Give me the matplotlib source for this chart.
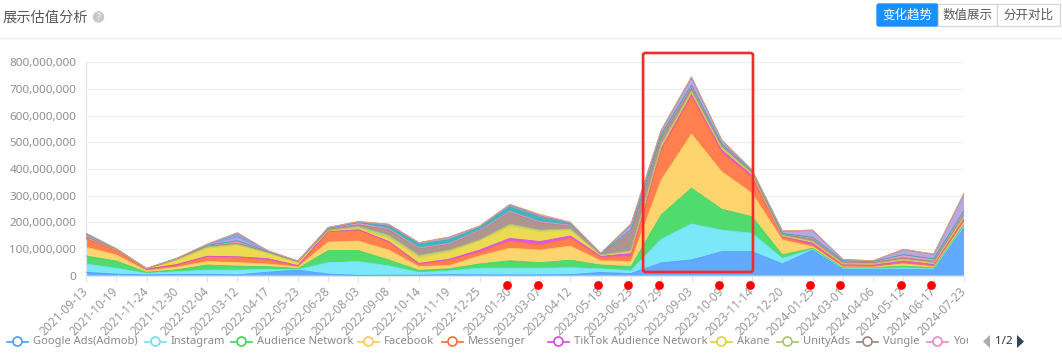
import matplotlib
matplotlib.use("Agg")
import matplotlib.pyplot as plt
import numpy as np
from matplotlib.patches import Rectangle, FancyBboxPatch, Circle, Polygon
from matplotlib.transforms import blended_transform_factory, ScaledTranslation, Bbox
from matplotlib.ticker import FuncFormatter, MultipleLocator
from matplotlib.lines import Line2D

plt.rcParams["font.family"] = ["Noto Sans", "Noto Sans CJK SC", "DejaVu Sans"]

# ---------------- data (values in millions) ----------------
dates = ["2021-09-13", "2021-10-19", "2021-11-24", "2021-12-30", "2022-02-04", "2022-03-12",
         "2022-04-17", "2022-05-23", "2022-06-28", "2022-08-03", "2022-09-08", "2022-10-14",
         "2022-11-19", "2022-12-25", "2023-01-30", "2023-03-07", "2023-04-12", "2023-05-18",
         "2023-06-23", "2023-07-29", "2023-09-03", "2023-10-09", "2023-11-14", "2023-12-20",
         "2024-01-25", "2024-03-01", "2024-04-06", "2024-05-12", "2024-06-17", "2024-07-23"]

google_ads = [13, 6, 3, 5, 5, 3, 13, 21, 6, 1, 2, 2, 4, 3, 3, 3, 4, 12, 8, 48, 59, 90, 90, 44, 96, 24, 24, 24, 22, 181]
instagram = [31, 22, 6, 10, 16, 18, 11, 2, 43, 52, 35, 10, 14, 25, 25, 25, 26, 14, 11, 89, 135, 81, 69, 21, 3, 4, 4, 5, 4, 5]
audience_network = [30, 27, 4, 7, 19, 15, 10, 4, 45, 41, 22, 8, 8, 16, 28, 21, 28, 14, 15, 91, 134, 78, 62, 13, 4, 2, 2, 7, 4, 6]
facebook = [33, 23, 5, 10, 13, 13, 10, 6, 32, 36, 37, 14, 12, 30, 47, 47, 53, 16, 19, 131, 203, 141, 88, 56, 6, 3, 3, 8, 4, 8]
messenger = [31, 18, 6, 8, 18, 20, 15, 3, 39, 41, 30, 10, 20, 14, 27, 19, 30, 14, 18, 112, 142, 71, 60, 10, 6, 4, 3, 6, 4, 8]
tiktok = [3, 1, 1, 2, 2, 2, 5, 2, 1, 2, 2, 2, 4, 8, 10, 13, 8, 3, 12, 8, 8, 10, 8, 3, 8, 5, 5, 6, 5, 6]
akane = [2, 1, 1, 16, 30, 44, 20, 10, 2, 3, 14, 22, 28, 35, 45, 38, 22, 3, 5, 5, 5, 5, 3, 2, 3, 2, 2, 3, 3, 6]
unityads = [1, 1, 0, 3, 5, 3, 3, 4, 2, 8, 9, 8, 6, 3, 8, 5, 4, 2, 5, 8, 6, 6, 4, 2, 3, 3, 2, 3, 3, 5]
vungle = [2, 1, 0, 2, 3, 4, 3, 1, 5, 7, 22, 25, 22, 34, 45, 28, 12, 3, 70, 30, 12, 6, 5, 5, 8, 4, 4, 6, 5, 6]
youtube = [8, 1, 1, 2, 3, 6, 1, 1, 3, 6, 3, 3, 3, 2, 3, 3, 2, 1, 5, 6, 8, 4, 3, 2, 6, 4, 3, 10, 8, 10]
page2_teal = [0, 0, 0, 0, 0, 3, 0, 0, 0, 2, 10, 14, 14, 10, 17, 16, 6, 1, 4, 3, 2, 2, 1, 0, 1, 1, 1, 1, 1, 2]
page2_purple = [5, 0, 0, 0, 2, 12, 2, 1, 2, 3, 5, 4, 8, 5, 6, 4, 2, 1, 15, 12, 25, 12, 3, 8, 25, 4, 2, 18, 16, 60]
page2_steel = [0, 0, 0, 0, 2, 18, 1, 0, 1, 1, 2, 2, 2, 1, 2, 2, 1, 0, 5, 3, 5, 3, 0, 2, 2, 1, 1, 2, 2, 6]
page2_peach = [0, 0, 0, 0, 0, 0, 0, 0, 0, 0, 0, 0, 0, 0, 2, 6, 3, 0, 3, 0, 2, 0, 0, 0, 0, 0, 0, 0, 0, 0]

legend_names = ["Google Ads(Admob)", "Instagram", "Audience Network", "Facebook", "Messenger",
                "TikTok Audience Network", "Akane", "UnityAds", "Vungle", "YouTube"]
legend_page = "1/2"
flagged_dates = ["2023-01-30", "2023-03-07", "2023-05-18", "2023-06-23", "2023-07-29", "2023-10-09",
                 "2023-11-14", "2024-01-25", "2024-03-01", "2024-05-12", "2024-06-17"]
highlight_range = ("2023-07-29", "2023-11-14")
y_max = 800

series = [google_ads, instagram, audience_network, facebook, messenger, tiktok, akane, unityads,
          vungle, youtube, page2_teal, page2_purple, page2_steel, page2_peach]
fill_colors = ["#62aafd", "#7ae8f8", "#4fdb6e", "#fed46f", "#ff7f4f", "#de58e3", "#ebda52",
               "#bcd283", "#ae958f", "#f39bcf", "#40b8b9", "#b8a7e0", "#7ea8e0", "#f8b07c"]
line_colors = ["#4f9bf6", "#6fe0f3", "#3ed35e", "#fcc95a", "#fb6d3a", "#d748dc", "#e2cf3a",
               "#a9c46a", "#9f827b", "#ee88c2", "#2eaaab", "#a894d8", "#6a97d6", "#f39f66"]

# ---------------- figure ----------------
W, H = 1062, 364
fig = plt.figure(figsize=(W / 100, H / 100), dpi=100)
fig.patch.set_facecolor("white")

x0, x1, y0, y1 = 86, 964, 275.7, 62.3
ax = fig.add_axes([x0 / W, 1 - y0 / H, (x1 - x0) / W, (y0 - y1) / H])
xs = np.arange(len(dates))
vals = [np.array(s, dtype=float) * 1e6 for s in series]
ax.stackplot(xs, *vals, colors=fill_colors, linewidth=0, zorder=2)
cum = np.cumsum(np.vstack(vals), axis=0)
for c, lc in zip(cum, line_colors):
    ax.plot(xs, c, color=lc, lw=0.6, zorder=3)

ax.set_xlim(0, len(dates) - 1)
ax.set_ylim(0, y_max * 1e6)
ax.yaxis.set_major_locator(MultipleLocator(100e6))
ax.yaxis.set_major_formatter(FuncFormatter(lambda v, p: f"{int(round(v)):,}"))
ax.grid(axis="y", color="#eef0f4", lw=1, zorder=0)
ax.set_axisbelow(True)
for s in ["top", "right"]:
    ax.spines[s].set_visible(False)
ax.spines["left"].set_color("#e0e6f1")
ax.spines["bottom"].set_color("#e0e6f1")
ax.set_xticks(xs)
ax.set_xticklabels(dates, rotation=45, ha="right", va="center", rotation_mode="anchor")
ax.tick_params(axis="x", length=4, color="#dfe3ec", labelcolor="#999999", labelsize=8.5, pad=6)
ax.tick_params(axis="y", length=0, labelcolor="#8e8e8e", labelsize=8.4, pad=7)

# highlight rectangle
i0, i1 = dates.index(highlight_range[0]), dates.index(highlight_range[1])
rect = FancyBboxPatch((i0 - 0.6, 14e6), (i1 - i0) + 0.63, 821e6,
                      boxstyle="round,pad=0,rounding_size=0.08", mutation_aspect=1e8,
                      fill=False, ec="#f52a2a", lw=1.9, clip_on=False, zorder=6)
ax.add_patch(rect)

# red markers on flagged dates
tr = blended_transform_factory(ax.transData, ax.transAxes) + \
    ScaledTranslation(-2.5 / 100, 0, fig.dpi_scale_trans)
fx = [dates.index(d) for d in flagged_dates]
ax.scatter(fx, [-9.5 / (y0 - y1)] * len(fx), s=40, color="#ff0000", transform=tr,
           clip_on=False, zorder=7, linewidths=0)

# ---------------- overlay (header, buttons, legend) ----------------
ov = fig.add_axes([0, 0, 1, 1], zorder=10)
ov.set_xlim(0, W)
ov.set_ylim(H, 0)
ov.axis("off")
ov.patch.set_alpha(0)

ov.text(3, 17.5, "展示估值分析", fontsize=10.3, color="#595959", va="center", ha="left",
        family=["Noto Sans CJK SC"])
ov.add_patch(Circle((98.5, 17), 5, color="#c5c8ce"))
ov.text(98.5, 17.3, "?", fontsize=6, color="white", ha="center", va="center", fontweight="bold")
ov.plot([0, W], [37.5, 37.5], color="#efefef", lw=1)

# buttons
btns = [("变化趋势", 877, 938, True), ("数值展示", 938, 997, False), ("分开对比", 997, 1060, False)]
for label, bx0, bx1, active in btns:
    if active:
        ov.add_patch(FancyBboxPatch((bx0, 4), bx1 - bx0, 22, boxstyle="round,pad=0,rounding_size=2",
                                    fc="#1890ff", ec="#1890ff", lw=1))
        tc = "white"
    else:
        ov.add_patch(Rectangle((bx0, 4), bx1 - bx0, 22, fc="white", ec="#d9d9d9", lw=1))
        tc = "#595959"
    ov.text((bx0 + bx1) / 2, 15.5, label, fontsize=9, color=tc, ha="center", va="center",
            family=["Noto Sans CJK SC"])

# legend (page 1)
leg_y = 341.5
icon_x = [7, 145, 231, 358, 442, 548, 711, 777, 857, 927]
for i, (name, ix) in enumerate(zip(legend_names, icon_x)):
    lc = line_colors[i]
    ov.add_line(Line2D([ix, ix + 21], [leg_y, leg_y], color=lc, lw=1.2))
    ov.add_patch(Circle((ix + 10.5, leg_y), 4.5, fc="white", ec=lc, lw=1.2, zorder=3))
    shown = name if i < len(legend_names) - 1 else name[:4]
    t = ov.text(ix + 26, leg_y, shown, fontsize=8.0, color="#8a8a8a", ha="left", va="center")
    t.set_clip_box(Bbox.from_extents(0, 0, 968, H))
    t.set_clip_on(True)

ov.add_patch(Polygon([[990, 335], [990, 348], [983, 341.5]], closed=True, fc="#aaaaaa", ec="none"))
ov.text(1003.5, leg_y, legend_page, fontsize=8.4, color="#333333", ha="center", va="center")
ov.add_patch(Polygon([[1017, 335], [1017, 348], [1024, 341.5]], closed=True, fc="#2f4554", ec="none"))

fig.savefig("out.png", dpi=100, facecolor="white")
